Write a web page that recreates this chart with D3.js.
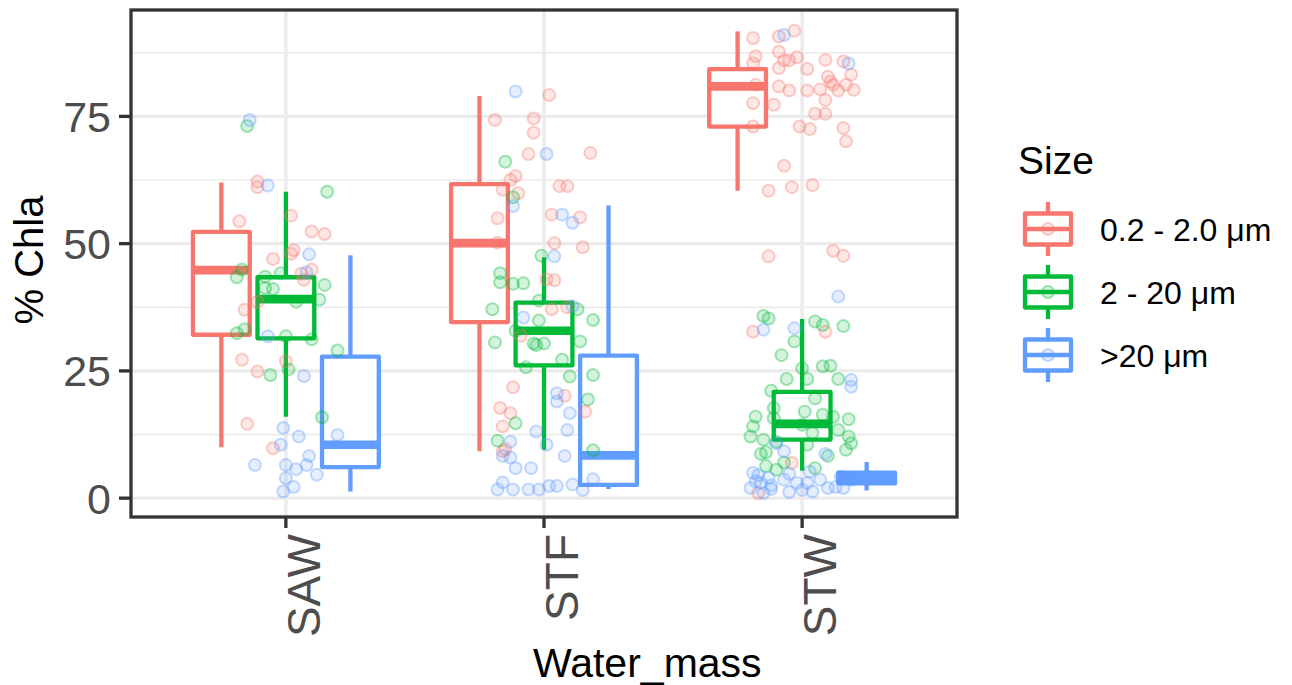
<!DOCTYPE html>
<html>
<head>
<meta charset="utf-8">
<script src="https://cdn.jsdelivr.net/npm/d3@7"></script>
<style>
  html, body { margin: 0; padding: 0; background: #ffffff; }
  text { font-family: "Liberation Sans", Arial, Helvetica, sans-serif; }
</style>
</head>
<body>
<script>
// ---- Data -------------------------------------------------------------
const waterMasses = ["SAW", "STF", "STW"];
const sizeClasses = ["0.2 - 2.0 \u03bcm", "2 - 20 \u03bcm", ">20 \u03bcm"];
const sizeColors = ["#F8766D", "#00BA38", "#619CFF"];
const yTicks = [0, 25, 50, 75];
const yMinorTicks = [12.5, 37.5, 62.5, 87.5];

// Box summaries per water mass: [lower whisker, Q1, median, Q3, upper whisker]
const picoBox  = [[10.0, 32.1, 44.8, 52.3, 62.0], [9.2, 34.6, 50.1, 61.7, 79.0], [60.4, 73.0, 80.9, 84.3, 91.7]];
const nanoBox  = [[16.0, 31.4, 39.1, 43.4, 60.2], [9.5, 26.1, 32.9, 38.4, 47.3], [5.4, 11.5, 14.6, 20.9, 35.2]];
const microBox = [[1.3, 6.1, 10.5, 27.8, 47.7], [1.8, 2.6, 8.4, 28.0, 57.5], [1.5, 2.9, 3.9, 5.0, 7.1]];

// Individual samples: [% Chla, horizontal jitter in category steps]
const sawPico = [[62.2,-0.11],[61.1,-0.11],[54.4,-0.18],[55.5,0.02],[52.4,0.10],[51.9,0.15],[48.7,0.03],[48.0,0.02],
  [47.0,-0.05],[44.9,0.10],[44.1,0.06],[42.9,0.07],[38.6,-0.11],[37.0,-0.16],[27.2,-0.17],[26.9,0.00],[24.9,-0.11],
  [14.6,-0.15],[9.8,-0.05]];
const sawNano = [[73.1,-0.15],[60.2,0.16],[44.9,-0.17],[43.4,-0.19],[43.5,-0.08],[44.2,-0.02],[41.3,-0.08],[41.1,-0.05],
  [41.9,0.15],[39.0,0.13],[38.6,0.04],[33.2,-0.16],[32.4,-0.19],[31.8,0.00],[31.2,0.10],[29.0,0.20],[25.3,0.01],
  [24.2,-0.06],[15.9,0.14]];
const sawMicro = [[74.3,-0.14],[61.4,-0.07],[47.9,0.09],[44.4,0.08],[31.8,-0.07],[24.0,0.07],[12.4,0.20],[13.8,-0.01],
  [12.1,0.05],[10.5,-0.02],[6.5,-0.12],[6.5,0.00],[8.3,0.09],[5.7,0.04],[6.5,0.08],[4.6,0.12],[3.9,0.00],[2.2,0.03],
  [1.3,-0.01]];

const stfPico = [[79.2,0.02],[74.3,-0.19],[74.6,-0.04],[71.8,-0.04],[67.6,-0.06],[67.8,0.18],[63.3,-0.11],[62.5,-0.13],
  [60.6,-0.16],[59.9,-0.10],[61.3,0.06],[61.3,0.09],[55.0,-0.18],[55.7,0.03],[55.2,0.14],[50.2,-0.18],[50.1,0.04],
  [49.3,0.15],[43.0,0.01],[42.8,0.04],[37.1,0.03],[37.5,0.09],[31.9,-0.09],[21.8,-0.12],[20.1,0.08],[17.7,-0.17],
  [16.7,-0.13],[17.0,0.16],[14.1,-0.16],[9.2,-0.16],[9.6,-0.15]];
const stfNano = [[66.1,-0.15],[59.1,-0.12],[47.6,-0.01],[44.2,-0.17],[42.4,-0.17],[42.1,-0.12],[42.2,-0.08],[37.1,-0.20],
  [38.8,-0.02],[37.1,0.13],[34.9,-0.02],[35.0,0.19],[32.9,-0.11],[30.6,-0.19],[30.4,-0.04],[30.4,0.00],[30.1,-0.03],
  [30.8,0.14],[25.7,-0.07],[27.2,0.07],[23.9,0.10],[24.2,0.19],[19.4,0.17],[14.7,-0.11],[11.3,-0.18],[9.4,0.19]];
const stfMicro = [[79.9,-0.11],[67.6,0.01],[57.4,-0.12],[55.7,0.07],[54.1,0.11],[47.5,0.04],[35.5,-0.08],[37.7,0.11],
  [20.6,0.05],[19.0,0.05],[16.7,0.10],[13.4,0.09],[13.1,-0.03],[10.5,0.01],[11.1,-0.13],[8.3,0.08],[8.3,-0.16],
  [8.0,-0.13],[5.9,-0.11],[5.9,-0.05],[3.1,-0.16],[1.7,-0.18],[1.7,-0.12],[1.7,-0.06],[1.7,-0.02],[2.4,0.02],
  [2.4,0.05],[2.7,0.11],[3.7,0.19],[1.6,0.15]];

const stwPico = [[90.4,-0.19],[91.8,-0.03],[90.7,-0.09],[86.8,-0.18],[87.7,-0.09],[86.6,-0.02],[86.0,-0.05],[86.0,-0.07],
  [85.4,-0.19],[84.5,-0.09],[84.3,0.02],[86.1,0.09],[85.8,0.16],[81.2,-0.18],[80.9,-0.09],[80.1,-0.05],[80.1,0.02],
  [80.3,0.07],[82.8,0.10],[81.8,0.11],[81.2,0.12],[80.1,0.14],[81.2,0.17],[80.2,0.20],[83.2,0.19],[78.2,0.09],
  [77.6,-0.19],[77.3,-0.11],[75.5,0.05],[75.5,0.09],[73.0,-0.19],[73.0,-0.01],[72.5,0.03],[72.7,0.16],[70.1,0.17],
  [65.3,-0.07],[60.4,-0.13],[61.1,-0.04],[61.5,0.04],[47.5,-0.13],[48.6,0.12],[47.6,0.16],[32.7,-0.19],[32.7,0.09],
  [6.9,-0.04],[1.0,-0.17]];
const stwNano = [[35.8,-0.15],[35.3,-0.13],[34.7,0.05],[34.0,0.08],[33.8,0.16],[30.8,-0.03],[28.1,-0.08],[25.9,0.08],
  [26.0,0.11],[25.5,0.00],[23.4,-0.06],[23.4,0.02],[23.4,0.14],[21.1,-0.12],[19.6,0.05],[17.7,-0.11],[15.7,-0.11],
  [16.0,-0.18],[14.1,-0.19],[12.1,-0.20],[17.0,0.01],[16.4,0.08],[16.0,0.12],[15.5,0.18],[14.4,0.00],[12.8,0.04],
  [13.4,0.14],[11.5,-0.15],[11.1,-0.10],[12.1,0.18],[10.8,0.19],[9.5,0.17],[10.5,0.02],[8.7,-0.16],[9.0,-0.14],
  [8.3,0.10],[7.0,-0.07],[6.3,-0.14],[5.9,0.05],[5.6,-0.10]];
const stwMicro = [[91.0,-0.07],[85.4,0.18],[39.6,0.14],[33.1,-0.15],[33.4,-0.03],[23.2,0.19],[21.9,0.19],[10.8,-0.10],
  [9.2,-0.07],[8.7,0.09],[5.0,-0.19],[3.0,-0.16],[4.0,-0.13],[2.0,-0.20],[1.0,-0.15],[3.6,-0.07],[3.0,-0.02],
  [3.0,0.02],[1.6,0.00],[1.3,0.04],[3.6,0.07],[2.0,0.10],[2.0,0.16],[3.6,0.19],[4.5,-0.17],[2.5,-0.12],[4.8,-0.05],
  [1.2,-0.05],[2.2,0.13],[4.2,0.15],[1.8,-0.12],[3.3,-0.18],[5.2,0.03]];

// ---- Assemble tidy tables from the arrays above ------------------------
const boxTables = [picoBox, nanoBox, microBox];
const pointTables = [
  [sawPico, stfPico, stwPico],
  [sawNano, stfNano, stwNano],
  [sawMicro, stfMicro, stwMicro]
];
const boxes = [];
boxTables.forEach((tbl, s) => tbl.forEach((b, w) => boxes.push({
  mass: waterMasses[w], size: s, lo: b[0], q1: b[1], med: b[2], q3: b[3], hi: b[4]
})));
const points = [];
pointTables.forEach((perMass, s) => perMass.forEach((arr, w) => arr.forEach(p => points.push({
  mass: waterMasses[w], size: s, value: p[0], jitter: p[1]
}))));

// ---- Layout -------------------------------------------------------------
const W = 1292, H = 685;
const panel = { left: 131, right: 957, top: 10, bottom: 517 };
const ink = "#333333", tickText = "#4d4d4d", gridCol = "#ebebeb";

const svg = d3.select("body").append("svg")
  .attr("width", W).attr("height", H)
  .style("display", "block");

svg.append("rect").attr("width", W).attr("height", H).attr("fill", "#ffffff");

const x = d3.scalePoint().domain(waterMasses)
  .range([panel.left, panel.right]).padding(0.6);
const step = x.step();
const y = d3.scaleLinear().domain([-3.7, 95.9]).range([panel.bottom, panel.top]);
const colour = d3.scaleOrdinal().domain([0, 1, 2]).range(sizeColors);

const dodge = s => (s - 1) * 0.25 * step;
const boxW = 0.22 * step;

// ---- Grid ---------------------------------------------------------------
const grid = svg.append("g");
grid.selectAll("line.minor").data(yMinorTicks).join("line")
  .attr("x1", panel.left).attr("x2", panel.right)
  .attr("y1", d => y(d)).attr("y2", d => y(d))
  .attr("stroke", gridCol).attr("stroke-width", 1.7);
grid.selectAll("line.majorY").data(yTicks).join("line")
  .attr("x1", panel.left).attr("x2", panel.right)
  .attr("y1", d => y(d)).attr("y2", d => y(d))
  .attr("stroke", gridCol).attr("stroke-width", 3.4);
grid.selectAll("line.majorX").data(waterMasses).join("line")
  .attr("x1", d => x(d)).attr("x2", d => x(d))
  .attr("y1", panel.top).attr("y2", panel.bottom)
  .attr("stroke", gridCol).attr("stroke-width", 3.4);

// ---- Boxplots -----------------------------------------------------------
const lw = 4.3;
const bx = svg.append("g").selectAll("g").data(boxes).join("g")
  .attr("transform", d => `translate(${x(d.mass) + dodge(d.size)},0)`);
bx.append("line")
  .attr("x1", 0).attr("x2", 0)
  .attr("y1", d => y(d.hi)).attr("y2", d => y(d.q3))
  .attr("stroke", d => colour(d.size)).attr("stroke-width", lw);
bx.append("line")
  .attr("x1", 0).attr("x2", 0)
  .attr("y1", d => y(d.q1)).attr("y2", d => y(d.lo))
  .attr("stroke", d => colour(d.size)).attr("stroke-width", lw);
bx.append("rect")
  .attr("x", -boxW / 2).attr("width", boxW)
  .attr("y", d => y(d.q3)).attr("height", d => y(d.q1) - y(d.q3))
  .attr("fill", "#ffffff").attr("stroke", d => colour(d.size))
  .attr("stroke-width", lw).attr("stroke-linejoin", "round");
bx.append("line")
  .attr("x1", -boxW / 2).attr("x2", boxW / 2)
  .attr("y1", d => y(d.med)).attr("y2", d => y(d.med))
  .attr("stroke", d => colour(d.size)).attr("stroke-width", lw * 2);

// ---- Jittered samples ---------------------------------------------------
const ptR = 6;
svg.append("g").selectAll("circle").data(points).join("circle")
  .attr("cx", d => x(d.mass) + d.jitter * step)
  .attr("cy", d => y(d.value))
  .attr("r", ptR)
  .attr("fill", d => colour(d.size)).attr("fill-opacity", 0.17)
  .attr("stroke", d => colour(d.size)).attr("stroke-opacity", 0.36)
  .attr("stroke-width", 2);

// ---- Panel border -------------------------------------------------------
svg.append("rect")
  .attr("x", panel.left).attr("y", panel.top)
  .attr("width", panel.right - panel.left).attr("height", panel.bottom - panel.top)
  .attr("fill", "none").attr("stroke", ink).attr("stroke-width", 3.3);

// ---- Axes ---------------------------------------------------------------
const yAxis = svg.append("g");
yAxis.selectAll("line").data(yTicks).join("line")
  .attr("x1", panel.left - 12).attr("x2", panel.left)
  .attr("y1", d => y(d)).attr("y2", d => y(d))
  .attr("stroke", ink).attr("stroke-width", 3.3);
yAxis.selectAll("text").data(yTicks).join("text")
  .attr("x", panel.left - 20).attr("y", d => y(d) + 15.5)
  .attr("text-anchor", "end").attr("fill", tickText)
  .style("font-size", "43px").text(d => d);

const xAxis = svg.append("g");
xAxis.selectAll("line").data(waterMasses).join("line")
  .attr("x1", d => x(d)).attr("x2", d => x(d))
  .attr("y1", panel.bottom).attr("y2", panel.bottom + 11)
  .attr("stroke", ink).attr("stroke-width", 3.3);
xAxis.selectAll("text").data(waterMasses).join("text")
  .attr("transform", d => `translate(${x(d) + 34},${panel.bottom + 17}) rotate(-90)`)
  .attr("text-anchor", "end").attr("fill", tickText)
  .style("font-size", "46px").text(d => d);

svg.append("text")
  .attr("x", 533).attr("y", 677)
  .attr("text-anchor", "start").attr("fill", "#000")
  .style("font-size", "41px").text("Water_mass");
svg.append("text")
  .attr("transform", `translate(43,260) rotate(-90)`)
  .attr("text-anchor", "middle").attr("fill", "#000")
  .style("font-size", "40px").text("% Chla");

// ---- Legend -------------------------------------------------------------
const legend = svg.append("g");
legend.append("text")
  .attr("x", 1018).attr("y", 174).attr("fill", "#000")
  .style("font-size", "39px").text("Size");
const keyCx = 1048, keyW = 46, keyH = 31, keyTop = 229, keyGap = 63;
const keys = legend.selectAll("g.key").data(sizeClasses).join("g")
  .attr("transform", (d, i) => `translate(0,${keyTop + i * keyGap})`);
keys.append("line")
  .attr("x1", keyCx).attr("x2", keyCx).attr("y1", -27).attr("y2", 27)
  .attr("stroke", (d, i) => colour(i)).attr("stroke-width", lw);
keys.append("rect")
  .attr("x", keyCx - keyW / 2).attr("y", -keyH / 2)
  .attr("width", keyW).attr("height", keyH)
  .attr("fill", "#ffffff").attr("stroke", (d, i) => colour(i))
  .attr("stroke-width", lw).attr("stroke-linejoin", "round");
keys.append("line")
  .attr("x1", keyCx - keyW / 2).attr("x2", keyCx + keyW / 2)
  .attr("y1", 0).attr("y2", 0)
  .attr("stroke", (d, i) => colour(i)).attr("stroke-width", lw);
keys.append("circle")
  .attr("cx", keyCx).attr("cy", 0).attr("r", ptR)
  .attr("fill", (d, i) => colour(i)).attr("fill-opacity", 0.17)
  .attr("stroke", (d, i) => colour(i)).attr("stroke-opacity", 0.36)
  .attr("stroke-width", 2);
keys.append("text")
  .attr("x", 1100).attr("y", 11.5).attr("fill", "#000")
  .style("font-size", "32px").text(d => d);
</script>
</body>
</html>
